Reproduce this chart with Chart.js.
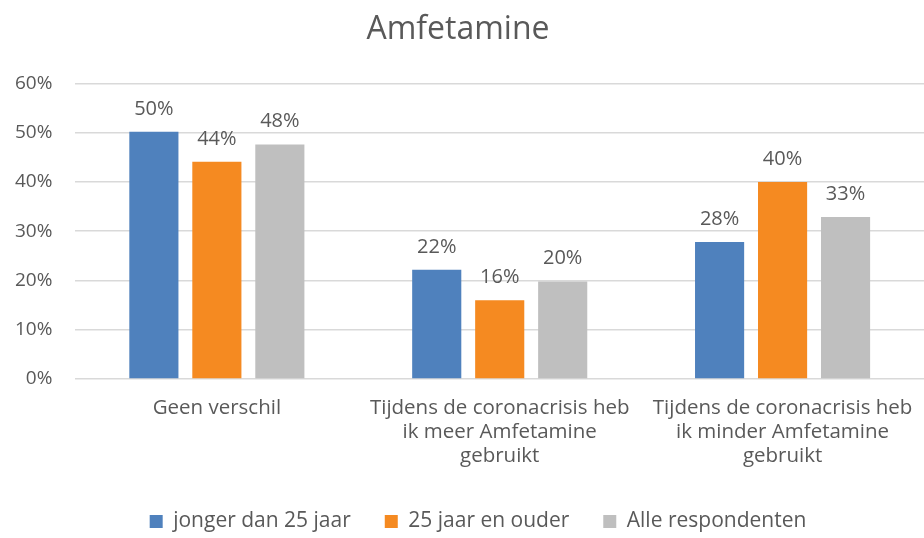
<!DOCTYPE html>
<html>
<head>
<meta charset="utf-8">
<script src="https://cdn.jsdelivr.net/npm/chart.js@4.4.0/dist/chart.umd.min.js"></script>
<style>
  html, body { margin: 0; padding: 0; background: #fff; }
  #wrap { width: 924px; height: 538px; }
</style>
</head>
<body>
<div id="wrap"><canvas id="chart"></canvas></div>
<script>
// chart data
const categories = [
    'Geen verschil',
    ['Tijdens de coronacrisis heb', 'ik meer Amfetamine', 'gebruikt'],
    ['Tijdens de coronacrisis heb', 'ik minder Amfetamine', 'gebruikt']
];
const seriesNames = ['jonger dan 25 jaar', '25 jaar en ouder', 'Alle respondenten'];
const jongerValues = [50.2, 22.2, 27.8];
const ouderValues = [44.1, 16.0, 40.0];
const alleValues = [47.6, 19.8, 32.9];
const tickValues = [0, 10, 20, 30, 40, 50, 60];

const colors = ['#4F81BD', '#F58A21', '#BFBFBF'];
const textColor = '#595959';
const fontFamily = '"Open Sans", sans-serif';

// simple data label plugin (value above each bar)
const barLabels = {
    id: 'barLabels',
    afterDatasetsDraw(chart) {
        const ctx = chart.ctx;
        ctx.save();
        ctx.font = '20px ' + fontFamily;
        ctx.fillStyle = textColor;
        ctx.textAlign = 'center';
        ctx.textBaseline = 'alphabetic';
        chart.data.datasets.forEach((ds, i) => {
            chart.getDatasetMeta(i).data.forEach((bar, j) => {
                ctx.fillText(Math.round(ds.data[j]) + '%', bar.x, bar.y - 17);
            });
        });
        ctx.restore();
    }
};

// legend in the original sits a bit right of the canvas centre
const legendShift = {
    id: 'legendShift',
    afterLayout(chart) {
        chart.legend.left += 20;
        chart.legend.right += 20;
    }
};

const seriesData = [jongerValues, ouderValues, alleValues];

new Chart(document.getElementById('chart'), {
    type: 'bar',
    data: {
        labels: categories,
        datasets: seriesNames.map((name, i) => ({
            label: name,
            data: seriesData[i],
            backgroundColor: colors[i],
            categoryPercentage: 0.668,
            barPercentage: 0.78
        }))
    },
    options: {
        responsive: true,
        maintainAspectRatio: false,
        animation: false,
        layout: { padding: { left: -8, right: 0, top: 2, bottom: -4 } },
        scales: {
            y: {
                min: 0,
                max: 60,
                afterBuildTicks(axis) {
                    axis.ticks = tickValues.map(v => ({ value: v }));
                },
                ticks: {
                    callback: v => v + '%',
                    color: textColor,
                    font: { family: fontFamily, size: 19 },
                    padding: 23
                },
                grid: { color: '#D9D9D9', lineWidth: 1.5, drawTicks: false },
                border: { display: false }
            },
            x: {
                ticks: {
                    color: textColor,
                    font: { family: fontFamily, size: 20.5, lineHeight: 1.17 },
                    padding: 9,
                    maxRotation: 0
                },
                grid: { display: false },
                border: { display: false }
            }
        },
        plugins: {
            title: {
                display: true,
                text: 'Amfetamine',
                color: textColor,
                font: { family: fontFamily, size: 32, weight: 'normal' },
                padding: { top: 9, bottom: 34 }
            },
            legend: {
                position: 'bottom',
                labels: {
                    color: textColor,
                    font: { family: fontFamily, size: 21 },
                    boxWidth: 13,
                    boxHeight: 13,
                    padding: 34
                }
            },
            tooltip: { enabled: false }
        }
    },
    plugins: [barLabels, legendShift]
});
</script>
</body>
</html>
